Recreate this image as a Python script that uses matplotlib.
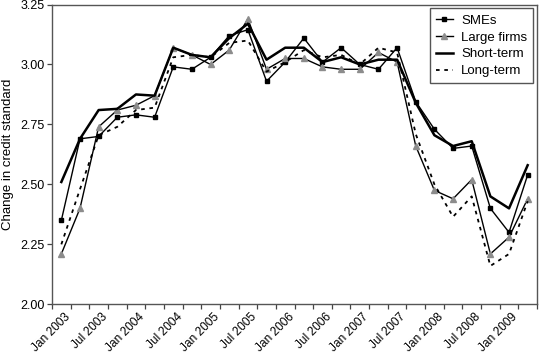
import numpy as np
import matplotlib
matplotlib.use("Agg")
import matplotlib.pyplot as plt

plt.rcParams['font.family'] = ['Liberation Sans', 'DejaVu Sans']

# quarterly observations, Jan 2003 .. Apr 2009
quarters = ["Jan 2003", "Apr 2003", "Jul 2003", "Oct 2003",
            "Jan 2004", "Apr 2004", "Jul 2004", "Oct 2004",
            "Jan 2005", "Apr 2005", "Jul 2005", "Oct 2005",
            "Jan 2006", "Apr 2006", "Jul 2006", "Oct 2006",
            "Jan 2007", "Apr 2007", "Jul 2007", "Oct 2007",
            "Jan 2008", "Apr 2008", "Jul 2008", "Oct 2008",
            "Jan 2009", "Apr 2009"]

smes = [2.35, 2.69, 2.70, 2.78, 2.79, 2.78, 2.99, 2.98, 3.03, 3.12, 3.145, 2.93, 3.01,
        3.11, 3.01, 3.07, 3.00, 2.98, 3.07, 2.845, 2.73, 2.65, 2.66, 2.40, 2.30, 2.54]
large_firms = [2.21, 2.40, 2.74, 2.81, 2.83, 2.87, 3.07, 3.04, 3.00, 3.06, 3.19, 2.98, 3.025,
               3.025, 2.99, 2.98, 2.98, 3.05, 3.01, 2.66, 2.475, 2.44, 2.52, 2.21, 2.28, 2.44]
short_term = [2.51, 2.69, 2.81, 2.815, 2.875, 2.87, 3.07, 3.04, 3.03, 3.11, 3.17, 3.02, 3.07,
              3.07, 3.01, 3.03, 3.00, 3.02, 3.02, 2.84, 2.705, 2.66, 2.68, 2.45, 2.40, 2.58]
long_term = [2.25, 2.48, 2.705, 2.74, 2.81, 2.82, 3.03, 3.04, 3.03, 3.09, 3.10, 2.97, 3.01,
             3.06, 3.03, 3.04, 3.00, 3.07, 3.05, 2.71, 2.50, 2.365, 2.45, 2.16, 2.21, 2.43]

y_ticks = [2.00, 2.25, 2.50, 2.75, 3.00, 3.25]

fig = plt.figure(figsize=(5.39, 3.54), dpi=100)
ax = fig.add_axes([0.0965, 0.1404, 0.8998, 0.8468])

x = np.arange(len(quarters))

ax.plot(x, smes, color="black", lw=1.0, marker="s", markersize=3.5, label="SMEs")
ax.plot(x, large_firms, color="black", lw=1.0, marker="^", markersize=4,
        markerfacecolor="#8c8c8c", markeredgecolor="#8c8c8c", label="Large firms")
ax.plot(x, short_term, color="black", lw=1.8, label="Short-term")
ax.plot(x, long_term, color="black", lw=1.3, linestyle=(0, (2, 2.6)), label="Long-term")

ax.set_xlim(-0.5, len(quarters) - 0.5)
ax.set_ylim(2.0, 3.25)
ax.set_yticks(y_ticks)
ax.set_yticklabels([f"{v:.2f}" for v in y_ticks])

# tick marks on the category boundaries, labels every half year
ax.set_xticks(np.arange(-0.5, len(quarters), 1))
ax.set_xticklabels([])
lab_idx = x[::2]
ax.set_xticks(lab_idx + 0.6, [quarters[i] for i in lab_idx], minor=True,
              rotation=45, ha="right")

ax.tick_params(axis="x", which="major", direction="out", length=3.5, width=0.9, color="#444444")
ax.tick_params(axis="x", which="minor", length=0, labelsize=8.6, pad=4.5)
ax.tick_params(axis="y", direction="out", length=3.5, width=0.9, color="#444444",
               labelsize=9, pad=2)

for sp in ax.spines.values():
    sp.set_color("#555555")
    sp.set_linewidth(1.0)

ax.set_ylabel("Change in credit standard", fontsize=9.5, labelpad=4)

leg = ax.legend(loc="upper right", fontsize=9.5, frameon=True, fancybox=False,
                edgecolor="#555555", framealpha=1, borderaxespad=0.3,
                handlelength=1.3, handletextpad=0.6, labelspacing=0.35, borderpad=0.45)
leg.get_frame().set_linewidth(1.0)

fig.savefig("out.png", dpi=100)
